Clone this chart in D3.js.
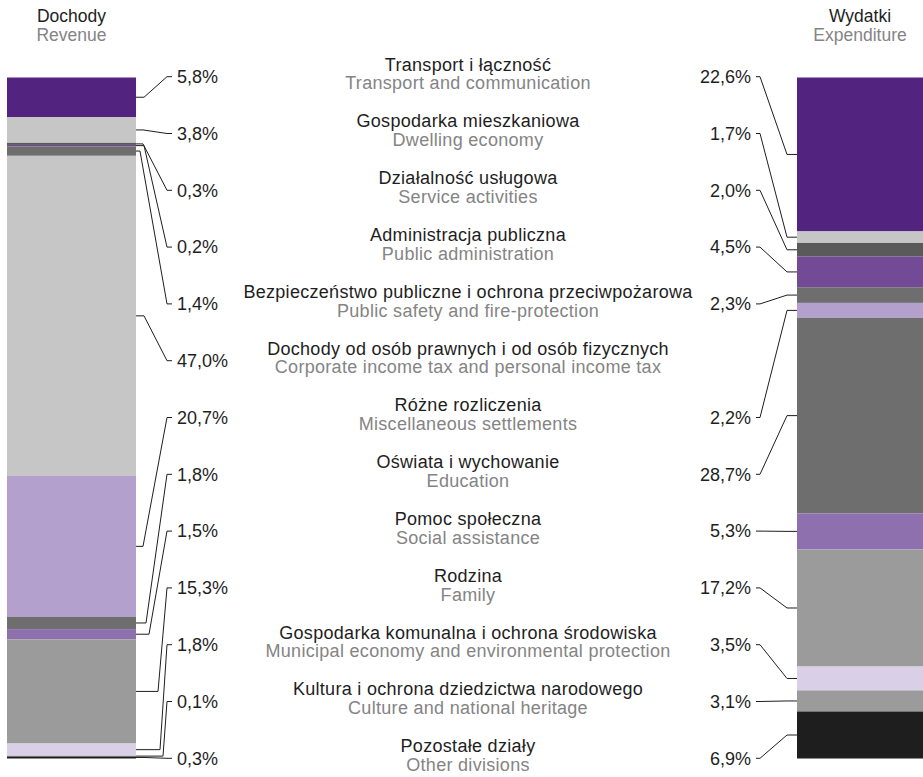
<!DOCTYPE html>
<html>
<head>
<meta charset="utf-8">
<script src="https://cdn.jsdelivr.net/npm/d3@7"></script>
<style>
  html, body { margin: 0; padding: 0; background: #fff; }
  svg { display: block; }
  text { font-family: "Liberation Sans", Arial, Helvetica, sans-serif; }
</style>
</head>
<body>
<svg id="chart" width="923" height="777"></svg>
<script>
// ---------- data ----------
const categoriesPl = [
  "Transport i łączność",
  "Gospodarka mieszkaniowa",
  "Działalność usługowa",
  "Administracja publiczna",
  "Bezpieczeństwo publiczne i ochrona przeciwpożarowa",
  "Dochody od osób prawnych i od osób fizycznych",
  "Różne rozliczenia",
  "Oświata i wychowanie",
  "Pomoc społeczna",
  "Rodzina",
  "Gospodarka komunalna i ochrona środowiska",
  "Kultura i ochrona dziedzictwa narodowego",
  "Pozostałe działy"
];
const categoriesEn = [
  "Transport and communication",
  "Dwelling economy",
  "Service activities",
  "Public administration",
  "Public safety and fire-protection",
  "Corporate income tax and personal income tax",
  "Miscellaneous settlements",
  "Education",
  "Social assistance",
  "Family",
  "Municipal economy and environmental protection",
  "Culture and national heritage",
  "Other divisions"
];
const revenue     = [5.8, 3.8, 0.3, 0.2, 1.4, 47.0, 20.7, 1.8, 1.5, 15.3, 1.8, 0.1, 0.3];
const expenditure = [22.6, 1.7, 2.0, 4.5, 2.3, null, 2.2, 28.7, 5.3, 17.2, 3.5, 3.1, 6.9];
const headerLeft  = ["Dochody", "Revenue"];
const headerRight = ["Wydatki", "Expenditure"];

// ---------- styles / layout ----------
const colors = ["#52247f","#c6c6c6","#5a5a5a","#724a96","#6e6e6e","#c6c6c6",
                "#b3a0cc","#6e6e6e","#8e70ae","#9b9b9b","#d9d0e7","#9b9b9b","#1e1e1e"];
const leftElbow = [8, 7, 7, 8, 4, 8, 7, 10, 13, 22, 24, 27, 8];
const darkText = "#1e1e1e", greyText = "#848484";

const svg = d3.select("#chart");
const fmt = v => d3.format(".1f")(v).replace(".", ",") + "%";

const y = d3.scaleLinear().domain([0, 100]).range([77.5, 758.5]);
const row = d3.scaleLinear().domain([0, categoriesPl.length - 1]).range([76.7, 758.3]);

const L = {x0: 7, x1: 136}, R = {x0: 797, x1: 923};

function stack(values) {
  let acc = 0;
  return values.map((v, i) => {
    const s = {i, v, y0: acc, y1: acc + (v || 0)};
    acc += (v || 0);
    return s;
  }).filter(d => d.v != null);
}
const leftStack = stack(revenue);
const rightStack = stack(expenditure);

// bars
svg.append("g").selectAll("rect").data(leftStack).join("rect")
  .attr("x", L.x0).attr("width", L.x1 - L.x0)
  .attr("y", d => y(d.y0)).attr("height", d => y(d.y1) - y(d.y0))
  .attr("fill", d => colors[d.i]);
svg.append("g").selectAll("rect").data(rightStack).join("rect")
  .attr("x", R.x0).attr("width", R.x1 - R.x0)
  .attr("y", d => y(d.y0)).attr("height", d => y(d.y1) - y(d.y0))
  .attr("fill", d => colors[d.i]);

// left leaders
svg.append("g").selectAll("path").data(leftStack).join("path")
  .attr("fill", "none").attr("stroke", darkText).attr("stroke-width", 1)
  .attr("d", d => {
    const ys = (y(d.y0) + y(d.y1)) / 2, yl = row(d.i);
    return `M${L.x1},${ys}H${L.x1 + leftElbow[d.i]}L${L.x1 + 31},${yl}H${L.x1 + 36}`;
  });
svg.append("g").selectAll("text").data(leftStack).join("text")
  .attr("x", L.x1 + 41).attr("y", d => row(d.i)).attr("dy", "0.35em")
  .attr("font-size", 18).attr("fill", darkText)
  .text(d => fmt(d.v));

// right leaders
svg.append("g").selectAll("path").data(rightStack).join("path")
  .attr("fill", "none").attr("stroke", darkText).attr("stroke-width", 1)
  .attr("d", d => {
    const ys = (y(d.y0) + y(d.y1)) / 2, yl = row(d.i);
    return `M${R.x0 - 41},${yl}H${R.x0 - 37}L${R.x0 - 10},${ys}H${R.x0}`;
  });
svg.append("g").selectAll("text").data(rightStack).join("text")
  .attr("x", R.x0 - 46).attr("y", d => row(d.i)).attr("dy", "0.35em")
  .attr("text-anchor", "end")
  .attr("font-size", 18).attr("fill", darkText)
  .text(d => fmt(d.v));

// category labels
const cx = 468;
const cat = svg.append("g").selectAll("g").data(categoriesPl).join("g");
cat.append("text").attr("x", cx).attr("y", (d, i) => row(i) - 6.2)
  .attr("text-anchor", "middle").attr("font-size", 18).attr("letter-spacing", 0.3)
  .attr("fill", darkText)
  .text(d => d);
cat.append("text").attr("x", cx).attr("y", (d, i) => row(i) + 12.6)
  .attr("text-anchor", "middle").attr("font-size", 18).attr("letter-spacing", 0.3)
  .attr("fill", greyText)
  .text((d, i) => categoriesEn[i]);

// headers
[[headerLeft, (L.x0 + L.x1) / 2], [headerRight, (R.x0 + R.x1) / 2]].forEach(([h, x]) => {
  svg.append("text").attr("x", x).attr("y", 22).attr("text-anchor", "middle")
    .attr("font-size", 17.5).attr("fill", darkText).text(h[0]);
  svg.append("text").attr("x", x).attr("y", 41).attr("text-anchor", "middle")
    .attr("font-size", 17.5).attr("fill", greyText).text(h[1]);
});
</script>
</body>
</html>
